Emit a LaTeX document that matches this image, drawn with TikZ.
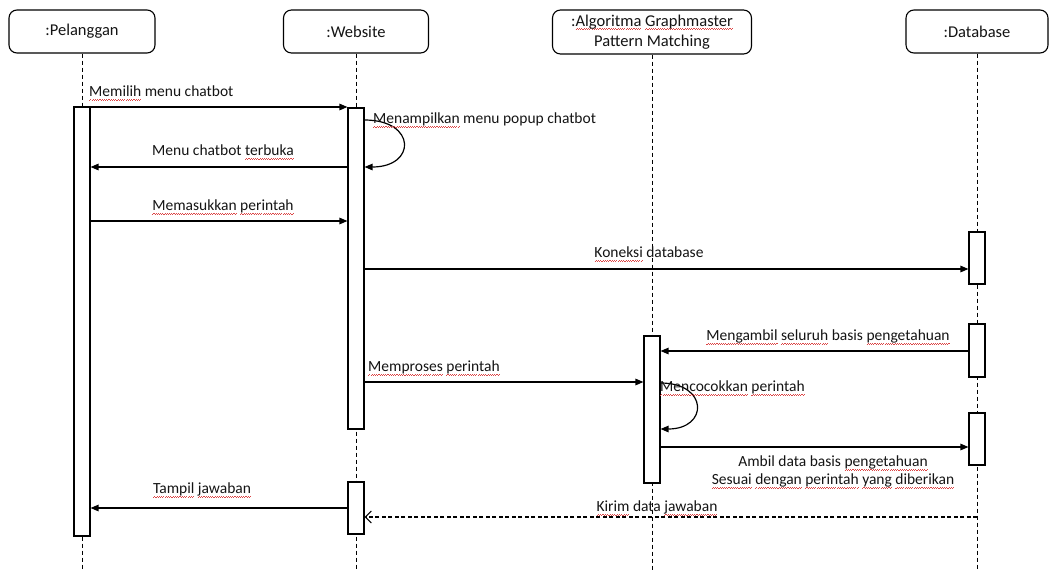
\documentclass[tikz,border=0pt]{standalone}
\usepackage{fontspec}
\setmainfont{Carlito}
\usetikzlibrary{arrows.meta}

\definecolor{wavered}{RGB}{220,70,70}
\definecolor{inkgray}{RGB}{20,20,20}

% red wavy underline, as a spell checker marks words
\newsavebox\wavebit
\newcommand\sq[1]{\leavevmode\setbox0\hbox{#1}%
  \rlap{\hbox to \wd0{\xleaders\copy\wavebit\hfil}}\box0\relax}

\tikzset{
  x=1pt, y=-1pt,
  head/.style={draw, line width=1.1pt, rounded corners=8pt, fill=white,
    minimum height=43pt, align=center, inner sep=2pt,
    font=\fontsize{16.5}{20}\selectfont, text=inkgray},
  lifeline/.style={draw, line width=0.9pt, dash pattern=on 4pt off 3pt},
  act/.style={draw, line width=1.1pt, fill=white, minimum width=16pt, inner sep=0pt},
  msg/.style={draw, line width=1.2pt, -{Triangle[length=8pt,width=6.5pt]}},
  reply/.style={draw, line width=1.1pt, dash pattern=on 4pt off 2.5pt,
    -{Straight Barb[length=6pt,width=12pt,line width=1.1pt]}},
  lbl/.style={inner sep=0pt, font=\fontsize{15.5}{19}\selectfont, text=inkgray, align=center},
}

\begin{document}
\sbox\wavebit{{\color{wavered}\rule[-3.9pt]{1.1pt}{0.75pt}\rule[-2.9pt]{1.1pt}{0.75pt}}}%
\begin{tikzpicture}
\useasboundingbox (0,0) rectangle (1049,570);
\fill[white] (0,0) rectangle (1049,570);

% participants
\node[head, minimum width=146pt] (hP) at (82,31.5) {:Pelanggan};
\node[head, minimum width=145pt] (hW) at (356,31.5) {:Website};
\node[head, minimum width=199pt, minimum height=44pt] (hA) at (652,32)
  {:\sq{Algoritma} \sq{Graphmaster}\\Pattern Matching};
\node[head, minimum width=142pt] (hD) at (977,31.5) {:Database};

% lifelines
\coordinate (bottom) at (0,570);
\draw[lifeline] (hP.south) -- (hP.south |- bottom);
\draw[lifeline] (hW.south) -- (hW.south |- bottom);
\draw[lifeline] (hA.south) -- (hA.south |- bottom);
\draw[lifeline] (hD.south) -- (hD.south |- bottom);

% activation bars
\node[act, minimum height=429pt] (pA) at (82,321.5) {};
\node[act, minimum height=321pt] (w1) at (356,268.5) {};
\node[act, minimum height=52pt]  (w2) at (356,508) {};
\node[act, minimum height=147pt] (a1) at (652,409.5) {};
\node[act, minimum height=52pt]  (d1) at (977,258) {};
\node[act, minimum height=53pt]  (d2) at (977,350.5) {};
\node[act, minimum height=52pt]  (d3) at (977,439) {};

% messages
\draw[msg] (pA.east |- 0,107) -- (w1.west |- 0,107);
\node[lbl, anchor=west] (l1) at (89,93) {\sq{Memilih} menu chatbot};

\draw[msg] (w1.east |- 0,120) .. controls +(52,0) and +(52,0) .. (w1.east |- 0,167);
\node[lbl, anchor=west] (l2) at (373,120) {\sq{Menampilkan} menu popup chatbot};

\draw[msg] (w1.west |- 0,167) -- (pA.east |- 0,167);
\node[lbl] (l3) at (223,152) {Menu chatbot \sq{terbuka}};

\draw[msg] (pA.east |- 0,221) -- (w1.west |- 0,221);
\node[lbl] (l4) at (223,207) {\sq{Memasukkan} \sq{perintah}};

\draw[msg] (w1.east |- 0,269) -- (d1.west |- 0,269);
\node[lbl] (l5) at (649,254) {\sq{Koneksi} database};

\draw[msg] (d2.west |- 0,351) -- (a1.east |- 0,351);
\node[lbl] (l6) at (828,337) {\sq{Mengambil} \sq{seluruh} basis \sq{pengetahuan}};

\draw[msg] (w1.east |- 0,382) -- (a1.west |- 0,382);
\node[lbl, anchor=west] (l7) at (368,368) {\sq{Memproses} \sq{perintah}};

\draw[msg] (a1.east |- 0,383) .. controls +(48,0) and +(48,0) .. (a1.east |- 0,429);
\node[lbl, anchor=west] (l8) at (660,388) {\sq{Mencocokkan} \sq{perintah}};

\draw[msg] (a1.east |- 0,447) -- (d3.west |- 0,447);
\node[lbl] (l9) at (833,463) {Ambil data basis \sq{pengetahuan}};
\node[lbl] (l10) at (833,481) {\sq{Sesuai} \sq{dengan} \sq{perintah} \sq{yang} \sq{diberikan}};

\draw[msg] (w2.west |- 0,508) -- (pA.east |- 0,508);
\node[lbl] (l11) at (202,490) {\sq{Tampil} \sq{jawaban}};

\draw[reply] (d3.south |- 0,517) -- (w2.east |- 0,517);
\node[lbl] (l12) at (657,508) {\sq{Kirim} data \sq{jawaban}};
\end{tikzpicture}
\end{document}
